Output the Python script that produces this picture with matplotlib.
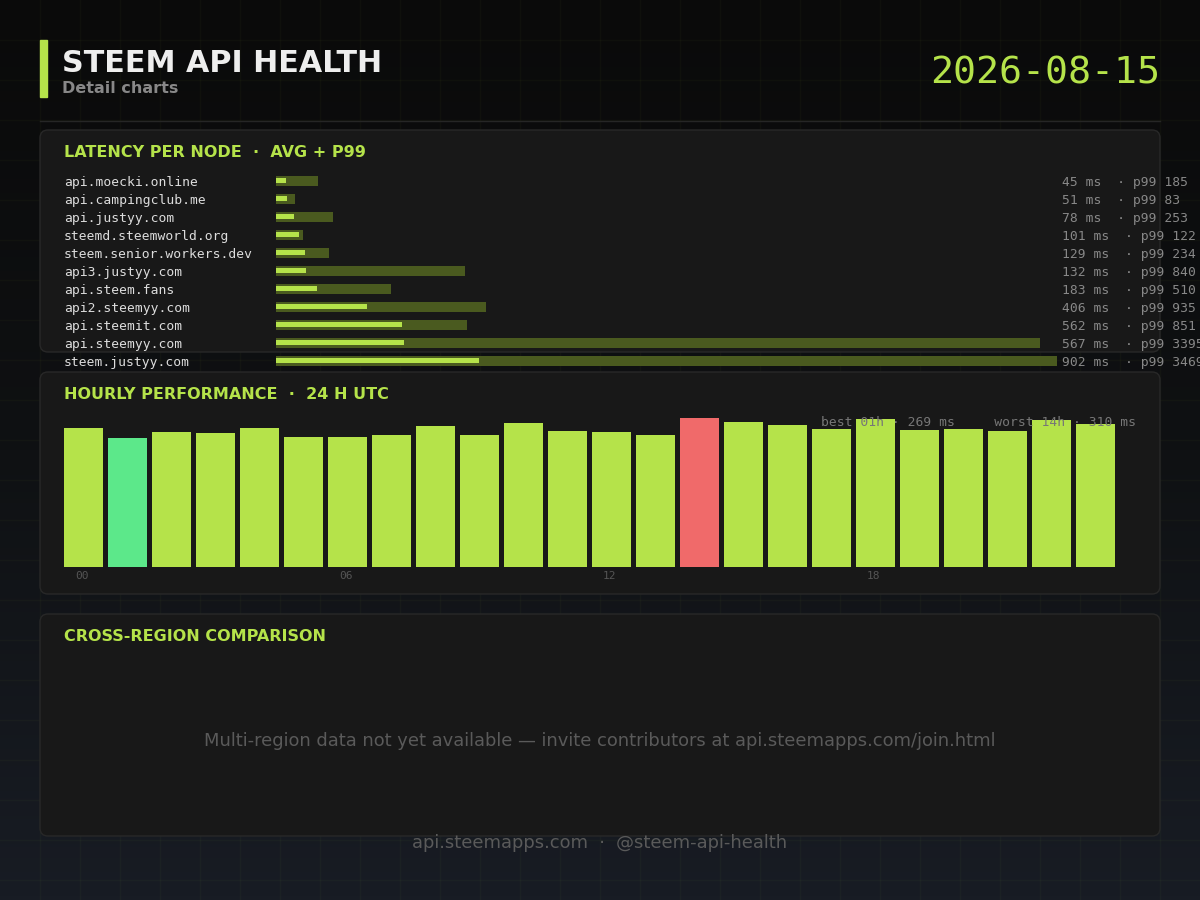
import numpy as np
import matplotlib.pyplot as plt
from matplotlib.patches import FancyBboxPatch, Rectangle
from matplotlib.colors import LinearSegmentedColormap
from matplotlib.transforms import ScaledTranslation

# latency per node (ms)
nodes = [
    "api.moecki.online", "api.campingclub.me", "api.justyy.com",
    "steemd.steemworld.org", "steem.senior.workers.dev", "api3.justyy.com",
    "api.steem.fans", "api2.steemyy.com", "api.steemit.com",
    "api.steemyy.com", "steem.justyy.com",
]
avg_ms = [45, 51, 78, 101, 129, 132, 183, 406, 562, 567, 902]
p99_ms = [185, 83, 253, 122, 234, 840, 510, 935, 851, 3395, 3469]

# hourly average latency, 00..23 UTC
hours = list(range(24))
hourly_ms = [290, 269, 281, 279, 290, 271, 271, 275, 294, 275, 300, 283,
             281, 275, 310, 302, 296, 287, 308, 285, 287, 283, 306, 298]
hour_ticks = [0, 6, 12, 18]

report_date = "2026-08-15"

W, H = 1200, 900
GREEN = "#b5e34a"
DARK_GREEN = "#4a5a1f"
BEST = "#5ce88a"
WORST = "#f06a6a"
PANEL = "#181818"
EDGE = "#282828"
MONO = "DejaVu Sans Mono"


def px_axes(fig, x0, y0, x1, y1, z=2):
    # pixel box, top-left origin -> figure axes
    ax = fig.add_axes([x0 / W, 1 - y1 / H, (x1 - x0) / W, (y1 - y0) / H])
    ax.set_zorder(z)
    ax.set_facecolor("none")
    for s in ax.spines.values():
        s.set_visible(False)
    return ax


fig = plt.figure(figsize=(12, 9), dpi=100)

# background layer in pixel coordinates
bg = fig.add_axes([0, 0, 1, 1])
bg.set_zorder(0)
bg.set_xlim(0, W)
bg.set_ylim(H, 0)
bg.axis("off")
cmap = LinearSegmentedColormap.from_list("bg", ["#0a0a0a", "#0f1113", "#181c24"])
bg.imshow(np.linspace(0, 1, 256).reshape(-1, 1), cmap=cmap, aspect="auto",
          extent=(0, W, H, 0), zorder=0)
for gx in range(40, W, 40):
    bg.axvline(gx, color=GREEN, alpha=0.03, lw=1, zorder=1)
for gy in range(40, H, 40):
    bg.axhline(gy, color=GREEN, alpha=0.03, lw=1, zorder=1)

# header
bg.add_patch(Rectangle((40, 40), 7, 57, color=GREEN, zorder=3))
bg.text(62, 72, "STEEM API HEALTH", fontsize=21.7, fontweight="bold",
        color="#eeeeee", va="baseline", zorder=4)
bg.text(62, 93, "Detail charts", fontsize=11.5, fontweight="bold",
        color="#888888", va="baseline", zorder=4)
bg.text(1160, 84, report_date, fontsize=27.5, family=MONO, color=GREEN,
        ha="right", va="baseline", zorder=4)
bg.plot([40, 1160], [120.5, 120.5], color="#262626", lw=1, zorder=3)

# panels
titles = ["LATENCY PER NODE  \u00b7  AVG + P99",
          "HOURLY PERFORMANCE  \u00b7  24 H UTC",
          "CROSS-REGION COMPARISON"]
for top, title in zip([130, 372, 614], titles):
    bg.add_patch(FancyBboxPatch((40, top), 1120, 222,
                                boxstyle="round,pad=0,rounding_size=8",
                                fc=PANEL, ec=EDGE, lw=1, zorder=2))
    bg.text(64, top + 27, title, fontsize=11.5, fontweight="bold",
            color=GREEN, va="baseline", zorder=4)

# latency rows: names and value labels
for i, (name, a, p) in enumerate(zip(nodes, avg_ms, p99_ms)):
    yb = 186 + 18 * i
    bg.text(64, yb, name, fontsize=9.4, family=MONO, color="#dddddd",
            va="baseline", zorder=4)
    bg.text(1062, yb, f"{a} ms  \u00b7 p99 {p}", fontsize=9.4, family=MONO,
            color="#888888", va="baseline", zorder=4)

lat = px_axes(fig, 276, 171.5, 1160, 369.5)
ypos = np.arange(len(nodes))
lat.barh(ypos, p99_ms, height=10 / 18, color=DARK_GREEN)
lat.barh(ypos, avg_ms, height=5 / 18, color=GREEN)
lat.set_xlim(0, 884 / 0.225)
lat.set_ylim(len(nodes) - 0.5, -0.5)
lat.set_xticks([])
lat.set_yticks([])

# hourly bars
best = int(np.argmin(hourly_ms))
worst = int(np.argmax(hourly_ms))
colors = [GREEN] * len(hours)
colors[best] = BEST
colors[worst] = WORST

hr = px_axes(fig, 61.5, 407, 1117.5, 567)
hr.bar(hours, hourly_ms, width=39 / 44, color=colors)
hr.set_xlim(-0.5, 23.5)
hr.set_ylim(0, 160 / 0.48)
hr.set_yticks([])
hr.set_xticks(hour_ticks, labels=[f"{h:02d}" for h in hour_ticks])
hr.tick_params(axis="x", length=0, pad=3, labelsize=8, labelcolor="#555555")
shift = ScaledTranslation(-2 / 100, 0, fig.dpi_scale_trans)
for lab in hr.get_xticklabels():
    lab.set_family(MONO)
    lab.set_transform(lab.get_transform() + shift)

fig.text(1136 / W, 1 - 426.5 / H,
         f"best {best:02d}h \u00b7 {hourly_ms[best]} ms     "
         f"worst {worst:02d}h \u00b7 {hourly_ms[worst]} ms",
         fontsize=9.4, family=MONO, color="#777777", ha="right", va="baseline")

# cross-region placeholder and footer
bg.text(600, 741, "Multi-region data not yet available \u2014 invite contributors "
        "at api.steemapps.com/join.html", fontsize=12.9, color="#5a5a5a",
        ha="center", va="center", zorder=4)
bg.text(600, 843, "api.steemapps.com  \u00b7  @steem-api-health", fontsize=12.9,
        color="#5a5a5a", ha="center", va="center", zorder=4)

fig.savefig("out.png", dpi=100)
